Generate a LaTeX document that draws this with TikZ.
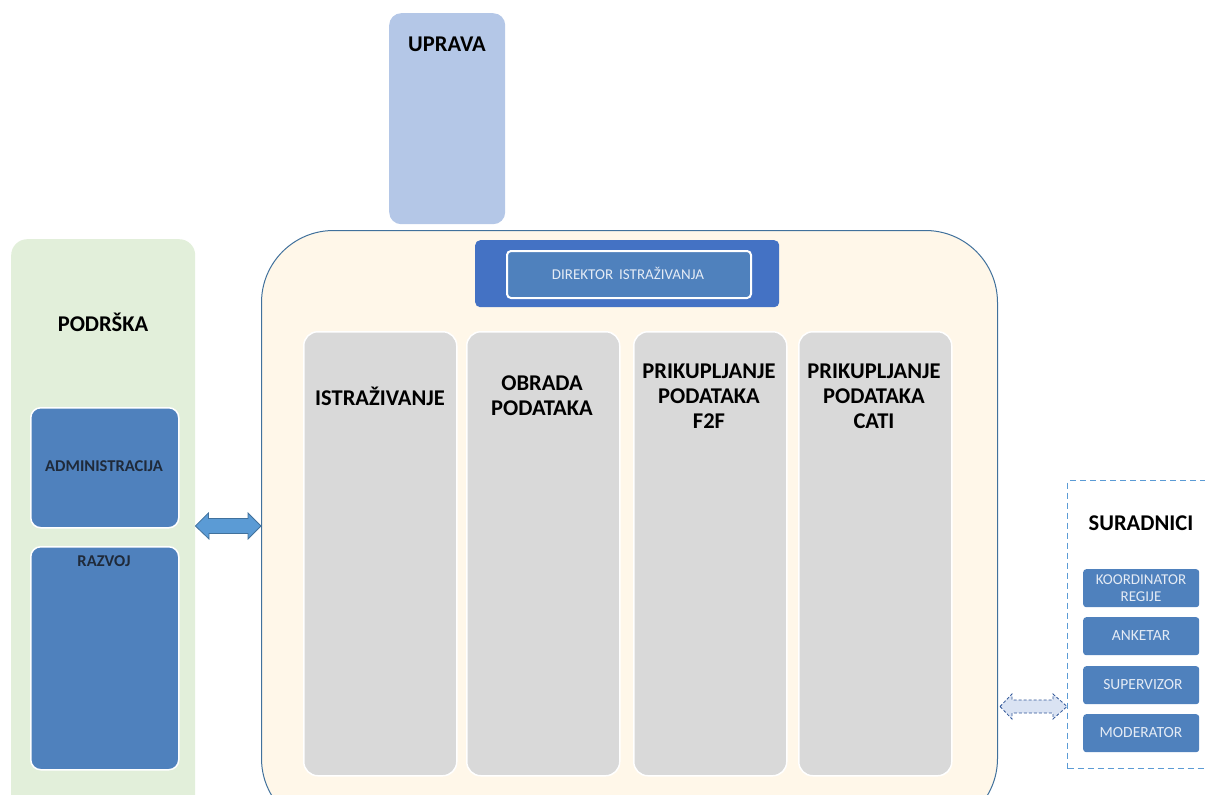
\documentclass[tikz,border=0pt]{standalone}
\usepackage{fontspec}
\setmainfont{Carlito}
\definecolor{uprava}{HTML}{B4C7E7}
\definecolor{podr}{HTML}{E2EFDA}
\definecolor{boxblue}{HTML}{4F81BD}
\definecolor{dirblue}{HTML}{4472C4}
\definecolor{cream}{HTML}{FFF7E9}
\definecolor{mainline}{HTML}{41719C}
\definecolor{colgray}{HTML}{D9D9D9}
\definecolor{arrowfill}{HTML}{5B9BD5}
\definecolor{dashfill}{HTML}{DAE3F3}
\definecolor{dashline}{HTML}{2F5597}
\definecolor{darktext}{HTML}{1F2A3A}
\definecolor{lighttext}{HTML}{E4EBF5}
\tikzset{
  panel/.style={rounded corners=#1, inner sep=0pt, anchor=north west},
  colbox/.style={panel=14pt, fill=colgray, draw=white, line width=1.5pt, minimum width=153pt, minimum height=444pt},
  title/.style={font=\fontsize{22.5}{25}\selectfont\bfseries, text=black, align=center},
  smallbox/.style={panel=3pt, fill=boxblue, minimum width=116pt, minimum height=38pt},
  smalltext/.style={font=\fontsize{15.5}{16.5}\selectfont, text=lighttext, align=center},
  subtext/.style={font=\fontsize{16.5}{18}\selectfont\bfseries, text=darktext},
}
\begin{document}
\begin{tikzpicture}[x=1pt,y=-1pt]
\useasboundingbox (0,0) rectangle (1205,795);
% UPRAVA
\node[panel=12pt, fill=uprava, minimum width=116pt, minimum height=211pt] (uprava) at (389,13) {};
\node[title] (upravat) at (447,44) {UPRAVA};
% PODRSKA
\node[panel=16pt, fill=podr, minimum width=184pt, minimum height=580pt] (podrska) at (11,239) {};
\node[title] (podrskat) at (103,322) {PODRŠKA};
\node[panel=10pt, fill=boxblue, draw=white, line width=1.5pt, minimum width=148pt, minimum height=120pt] (admin) at (30,407) {};
\node[subtext] (admint) at (104,466) {ADMINISTRACIJA};
\node[panel=10pt, fill=boxblue, draw=white, line width=1.5pt, minimum width=148pt, minimum height=223pt] (razvoj) at (30,546) {};
\node[subtext] (razvojt) at (104,561) {RAZVOJ};
% main
\node[panel=72pt, fill=cream, draw=mainline, line width=1pt, minimum width=736pt, minimum height=600pt] (main) at (261,230) {};
% double arrow left (block arrow between podrska and main)
\draw[fill=arrowfill, draw=mainline, line width=0.8pt]
  (podrska.east |- 0,526) -- ++(13,-13) -- ++(0,5.5) -- (248,518.5) -- (248,513)
  -- (main.west |- 0,526) -- (248,539) -- (248,533.5) -- (209,533.5) -- (209,539) -- cycle;
% director
\node[panel=5pt, fill=dirblue, minimum width=304pt, minimum height=67pt] (dirout) at (475,240) {};
\node[panel=4pt, fill=boxblue, draw=white, line width=2pt, minimum width=244pt, minimum height=47pt] (dirin) at (506,250) {};
\node[font=\fontsize{15}{16}\selectfont, text=lighttext] (dirt) at (628,273) {DIREKTOR\hspace{6pt}ISTRAŽIVANJA};
% columns
\node[colbox] (c1) at (303,331) {};
\node[colbox] (c2) at (466,331) {};
\node[colbox] (c3) at (633,331) {};
\node[colbox] (c4) at (798,331) {};
\node[title] (c1t) at (380,396) {ISTRAŽIVANJE};
\node[title] (c2t) at (542,396) {OBRADA\\PODATAKA};
\node[title] (c3t) at (709,396) {PRIKUPLJANJE\\PODATAKA\\F2F};
\node[title] (c4t) at (874,396) {PRIKUPLJANJE\\PODATAKA\\CATI};
% suradnici
\node[anchor=north west, draw=arrowfill, dashed, dash pattern=on 6pt off 4pt, line width=1pt, minimum width=150pt, minimum height=288pt, inner sep=0pt] (sur) at (1067,480) {};
\node[title] (surt) at (1141,523) {SURADNICI};
\node[smallbox] (k1) at (1083,569) {};
\node[smalltext, font=\fontsize{15}{16.5}\selectfont] (k1t) at (1141,588) {KOORDINATOR\\REGIJE};
\node[smallbox] (k2) at (1083,617) {};
\node[smalltext] (k2t) at (1141,636) {ANKETAR};
\node[smallbox] (k3) at (1083,666) {};
\node[smalltext] (k3t) at (1143,685) {SUPERVIZOR};
\node[smallbox] (k4) at (1083,714) {};
\node[smalltext] (k4t) at (1141,733) {MODERATOR};
% dashed double arrow between main and suradnici
\draw[fill=dashfill, draw=dashline, dash pattern=on 3pt off 2pt, line width=0.8pt]
  (1000,706.5) -- (1012,694) -- (1012,700) -- (1053,700) -- (1053,694)
  -- (sur.west |- 0,706.5) -- (1053,719) -- (1053,713) -- (1012,713) -- (1012,719) -- cycle;
\end{tikzpicture}
\end{document}
